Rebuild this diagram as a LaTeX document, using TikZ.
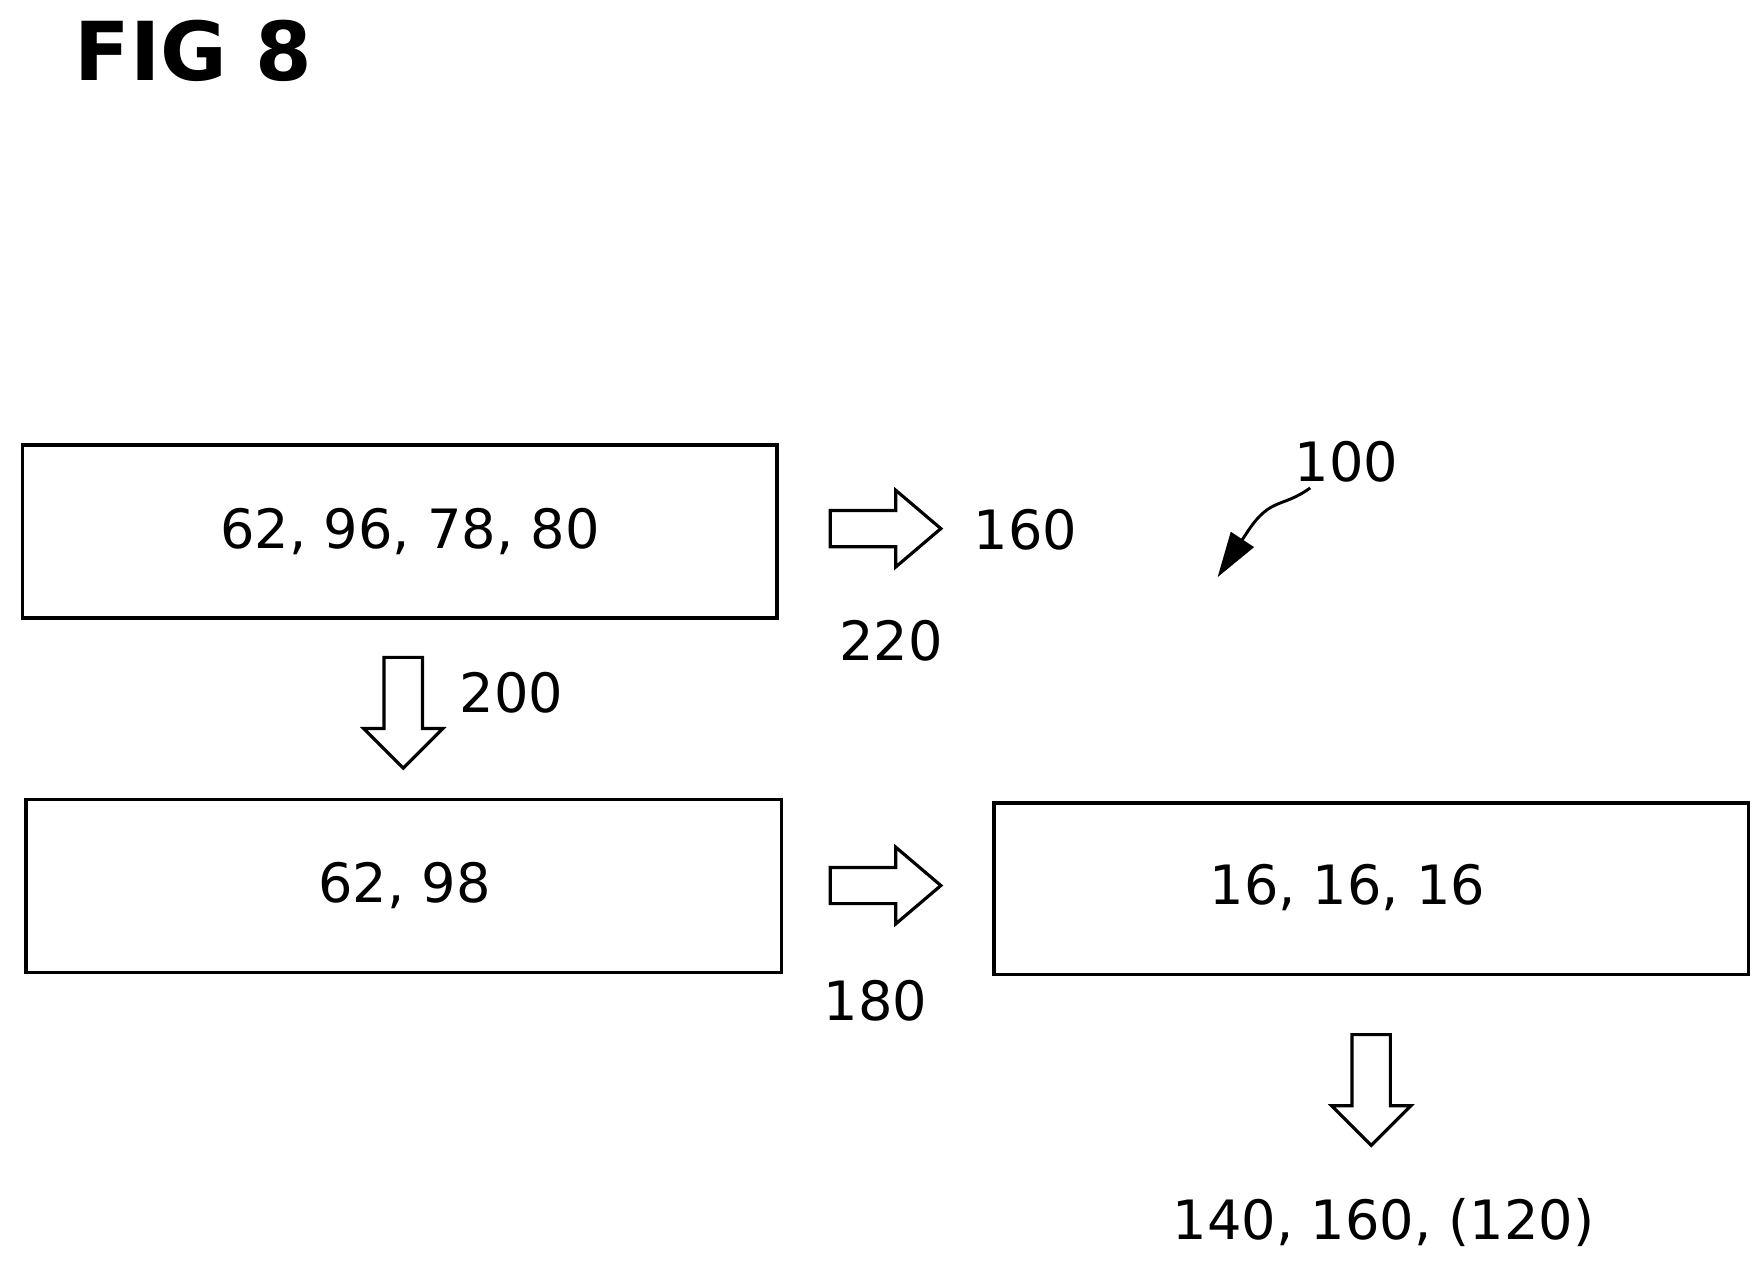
\documentclass[tikz,border=0pt]{standalone}
\usepackage{fontspec}
\setmainfont{DejaVu Sans}
\usetikzlibrary{arrows.meta}
\begin{document}
\begin{tikzpicture}[x=0.5pt,y=-0.5pt,line width=1.3pt,
  box/.style={draw,line width=1.5pt},
  lbl/.style={font=\fontsize{24}{28}\selectfont},
  harr/.pic={\draw[line width=1.4pt,line join=miter] (-49,-16)--(9,-16)--(9,-34)--(49,0)--(9,34)--(9,16)--(-49,16)--cycle;},
  varr/.pic={\draw[line width=1.4pt,line join=miter] (-17,-49)--(17,-49)--(17,14)--(35,14)--(0,49)--(-35,14)--(-17,14)--cycle;}]
\useasboundingbox (0,0) rectangle (1560,1120);
\node[font=\fontsize{36}{40}\selectfont\bfseries,anchor=west] (fig) at (58,45) {FIG 8};
\draw[box] (20,394) rectangle (688,547);
\node[lbl] (t1) at (363,471) {62, 96, 78, 80};
\draw[box] (23,708) rectangle (692,861);
\node[lbl] (t2) at (358,784) {62, 98};
\draw[box] (880,711) rectangle (1548,863);
\node[lbl] (t3) at (1193,786) {16, 16, 16};
\pic at (784,468) {harr};
\pic at (784,784) {harr};
\pic at (357,631) {varr};
\pic at (1214,965) {varr};
\node[lbl] (l160) at (908,469) {160};
\node[lbl] (l220) at (789,567) {220};
\node[lbl] (l200) at (453,613) {200};
\node[lbl] (l180) at (775,886) {180};
\node[lbl] (l140) at (1225,1082) {140, 160, (120)};
\node[lbl] (l100) at (1192,409) {100};
\coordinate (tip) at (1078,511);
\draw[-{Triangle[length=20pt,width=12pt]}] (1160,432) .. controls (1135,450) and (1125,440) .. (1105,470) -- (tip);
\end{tikzpicture}
\end{document}
